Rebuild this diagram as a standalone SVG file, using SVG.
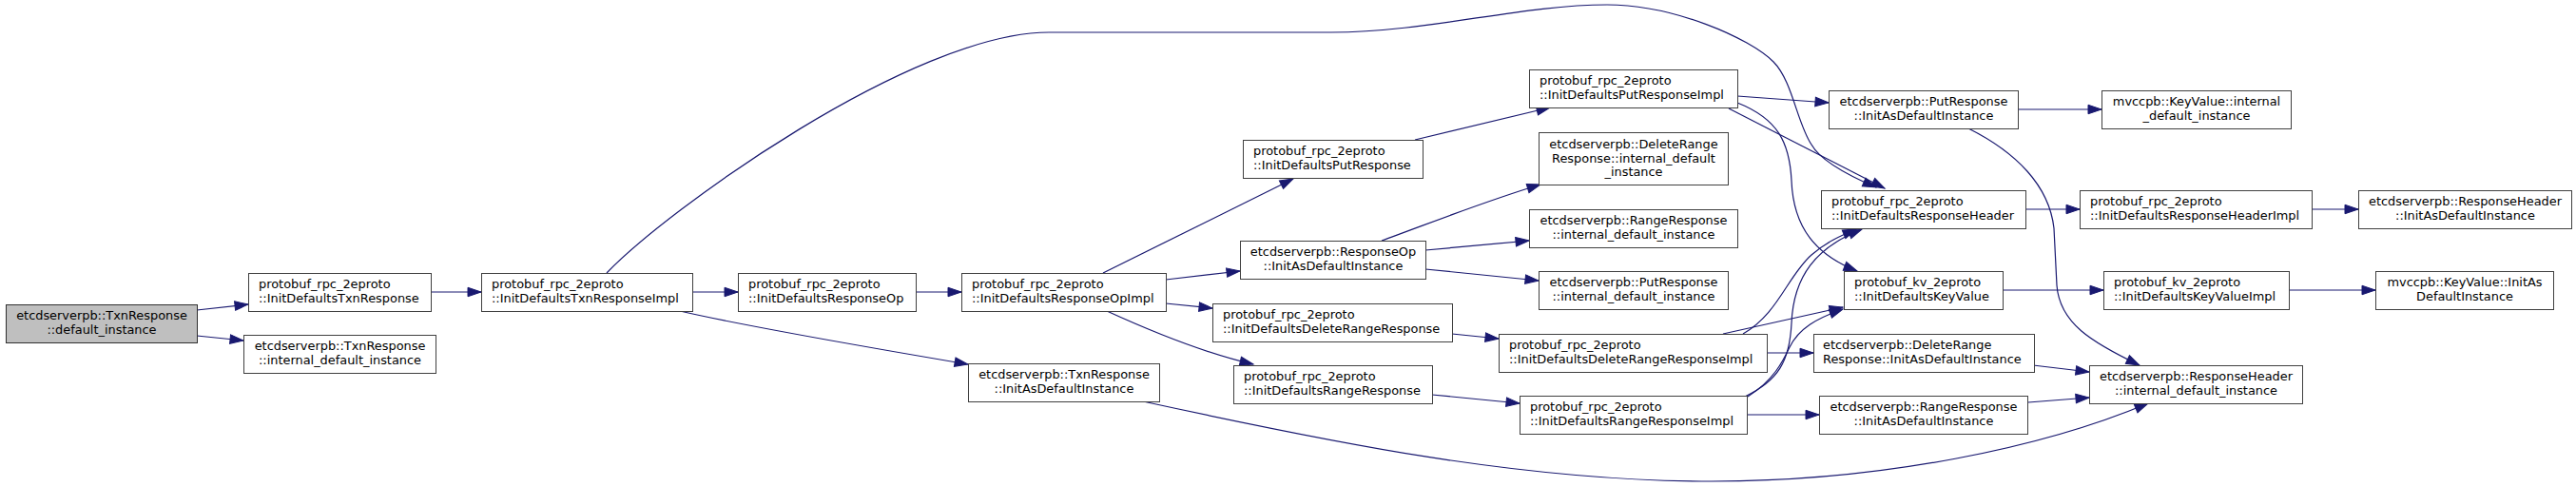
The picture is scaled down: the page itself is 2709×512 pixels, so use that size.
<svg xmlns="http://www.w3.org/2000/svg" width="2709" height="512" viewBox="0 0 2709 512">
<style>
.n rect{fill:#ffffff;stroke:#404040;stroke-width:1}
.n.root rect{fill:#bfbfbf;stroke:#303030}
.n text{font-family:"DejaVu Sans","Liberation Sans",sans-serif;font-size:12.9px;fill:#000}
.c{text-anchor:middle}
.l{text-anchor:start}
.e path{fill:none;stroke:#191970;stroke-width:1.2;marker-end:url(#ah)}
</style>
<defs>
<marker id="ah" markerUnits="userSpaceOnUse" markerWidth="15" markerHeight="11" refX="14" refY="4.75" orient="auto" overflow="visible">
<path d="M0,0 L14,4.75 L0,9.5 Z" fill="#191970" stroke="#191970" stroke-width="1"/>
</marker>
</defs>
<rect width="2709" height="512" fill="#ffffff"/>
<g id="edges" class="e">
<path d="M207,326 L261,320"/>
<path d="M207,353 L256,358"/>
<path d="M453,307 L506,307"/>
<path d="M728,307 L776,307"/>
<path d="M963,307 L1011,307"/>
<path d="M638,287 C700,222 960,34 1103,34 L1400,34 C1500,34 1600,5 1690,5 C1760,5 1840,40 1865,65 C1885,85 1890,130 1905,152 C1915,170 1945,185 1973,197"/>
<path d="M715,327 C780,342 900,363 1018,383"/>
<path d="M1160,287 L1360,188"/>
<path d="M1226,294 L1304,285"/>
<path d="M1226,319 L1275,324"/>
<path d="M1164,327 C1210,348 1270,372 1318,383"/>
<path d="M1488,147 L1630,113"/>
<path d="M1453,253 C1500,236 1560,212 1620,194"/>
<path d="M1499,263 L1608,253"/>
<path d="M1499,283 L1618,295"/>
<path d="M1527,351 L1576,356"/>
<path d="M1506,415 L1598,424"/>
<path d="M1202,422 C1400,465 1600,506 1800,506 C1980,506 2150,470 2259,424"/>
<path d="M1827,101 L1923,108"/>
<path d="M1818,114 L1982,198"/>
<path d="M1827,108 C1870,125 1882,150 1884,190 C1886,240 1910,268 1953,285"/>
<path d="M1833,351 C1870,330 1880,290 1905,268 C1920,255 1935,248 1952,241"/>
<path d="M1812,351 L1938,323"/>
<path d="M1858,371 L1907,371"/>
<path d="M1835,417 C1870,400 1882,380 1884,340 C1886,290 1910,260 1958,241"/>
<path d="M1838,417 C1865,400 1875,380 1882,365 C1892,345 1910,335 1938,325"/>
<path d="M1837,436 L1913,436"/>
<path d="M2122,115 L2210,115"/>
<path d="M2070,135 C2120,160 2155,195 2160,240 L2163,300 C2166,340 2200,360 2250,384"/>
<path d="M2130,220 L2187,220"/>
<path d="M2106,305 L2212,305"/>
<path d="M2138,384 L2197,391"/>
<path d="M2133,423 L2197,418"/>
<path d="M2431,220 L2480,220"/>
<path d="M2407,305 L2498,305"/>
</g>
<g id="nA" class="n root"><rect x="6.5" y="320.5" width="201" height="40"/><text class="c" x="107" y="336.2">etcdserverpb::TxnResponse</text><text class="c" x="107" y="350.8">::default_instance</text></g>
<g id="nB" class="n"><rect x="261.5" y="287.5" width="192" height="40"/><text class="l" x="272" y="303.2">protobuf_rpc_2eproto</text><text class="l" x="272" y="317.8">::InitDefaultsTxnResponse</text></g>
<g id="nC" class="n"><rect x="256.5" y="352.5" width="202" height="40"/><text class="c" x="357.5" y="368.2">etcdserverpb::TxnResponse</text><text class="c" x="357.5" y="382.8">::internal_default_instance</text></g>
<g id="nD" class="n"><rect x="506.5" y="287.5" width="222" height="40"/><text class="l" x="517" y="303.2">protobuf_rpc_2eproto</text><text class="l" x="517" y="317.8">::InitDefaultsTxnResponseImpl</text></g>
<g id="nE" class="n"><rect x="776.5" y="287.5" width="187" height="40"/><text class="l" x="787" y="303.2">protobuf_rpc_2eproto</text><text class="l" x="787" y="317.8">::InitDefaultsResponseOp</text></g>
<g id="nF" class="n"><rect x="1011.5" y="287.5" width="215" height="40"/><text class="l" x="1022" y="303.2">protobuf_rpc_2eproto</text><text class="l" x="1022" y="317.8">::InitDefaultsResponseOpImpl</text></g>
<g id="nG" class="n"><rect x="1018.5" y="382.5" width="201" height="40"/><text class="c" x="1119" y="398.2">etcdserverpb::TxnResponse</text><text class="c" x="1119" y="412.8">::InitAsDefaultInstance</text></g>
<g id="nH" class="n"><rect x="1307.5" y="147.5" width="189" height="40"/><text class="l" x="1318" y="163.2">protobuf_rpc_2eproto</text><text class="l" x="1318" y="177.8">::InitDefaultsPutResponse</text></g>
<g id="nI" class="n"><rect x="1304.5" y="253.5" width="195" height="40"/><text class="c" x="1402" y="269.2">etcdserverpb::ResponseOp</text><text class="c" x="1402" y="283.8">::InitAsDefaultInstance</text></g>
<g id="nJ" class="n"><rect x="1275.5" y="319.5" width="252" height="40"/><text class="l" x="1286" y="335.2">protobuf_rpc_2eproto</text><text class="l" x="1286" y="349.8">::InitDefaultsDeleteRangeResponse</text></g>
<g id="nK" class="n"><rect x="1297.5" y="384.5" width="209" height="40"/><text class="l" x="1308" y="400.2">protobuf_rpc_2eproto</text><text class="l" x="1308" y="414.8">::InitDefaultsRangeResponse</text></g>
<g id="nL" class="n"><rect x="1608.5" y="73.5" width="219" height="40"/><text class="l" x="1619" y="89.2">protobuf_rpc_2eproto</text><text class="l" x="1619" y="103.8">::InitDefaultsPutResponseImpl</text></g>
<g id="nM" class="n"><rect x="1618.5" y="139.5" width="199" height="55"/><text class="c" x="1718" y="156">etcdserverpb::DeleteRange</text><text class="c" x="1718" y="170.6">Response::internal_default</text><text class="c" x="1718" y="185.2">_instance</text></g>
<g id="nN" class="n"><rect x="1608.5" y="220.5" width="219" height="40"/><text class="c" x="1718" y="236.2">etcdserverpb::RangeResponse</text><text class="c" x="1718" y="250.8">::internal_default_instance</text></g>
<g id="nO" class="n"><rect x="1618.5" y="285.5" width="199" height="40"/><text class="c" x="1718" y="301.2">etcdserverpb::PutResponse</text><text class="c" x="1718" y="315.8">::internal_default_instance</text></g>
<g id="nP" class="n"><rect x="1576.5" y="351.5" width="282" height="40"/><text class="l" x="1587" y="367.2">protobuf_rpc_2eproto</text><text class="l" x="1587" y="381.8">::InitDefaultsDeleteRangeResponseImpl</text></g>
<g id="nQ" class="n"><rect x="1598.5" y="416.5" width="239" height="40"/><text class="l" x="1609" y="432.2">protobuf_rpc_2eproto</text><text class="l" x="1609" y="446.8">::InitDefaultsRangeResponseImpl</text></g>
<g id="nR" class="n"><rect x="1923.5" y="95.5" width="199" height="40"/><text class="c" x="2023" y="111.2">etcdserverpb::PutResponse</text><text class="c" x="2023" y="125.8">::InitAsDefaultInstance</text></g>
<g id="nS" class="n"><rect x="1915.5" y="200.5" width="215" height="40"/><text class="l" x="1926" y="216.2">protobuf_rpc_2eproto</text><text class="l" x="1926" y="230.8">::InitDefaultsResponseHeader</text></g>
<g id="nT" class="n"><rect x="1939.5" y="285.5" width="167" height="40"/><text class="l" x="1950" y="301.2">protobuf_kv_2eproto</text><text class="l" x="1950" y="315.8">::InitDefaultsKeyValue</text></g>
<g id="nU" class="n"><rect x="1907.5" y="351.5" width="232" height="40"/><text class="l" x="1917" y="367.2">etcdserverpb::DeleteRange</text><text class="l" x="1917" y="381.8">Response::InitAsDefaultInstance</text></g>
<g id="nV" class="n"><rect x="1913.5" y="416.5" width="219" height="40"/><text class="c" x="2023" y="432.2">etcdserverpb::RangeResponse</text><text class="c" x="2023" y="446.8">::InitAsDefaultInstance</text></g>
<g id="nW" class="n"><rect x="2197.5" y="384.5" width="224" height="40"/><text class="c" x="2309.5" y="400.2">etcdserverpb::ResponseHeader</text><text class="c" x="2309.5" y="414.8">::internal_default_instance</text></g>
<g id="nX" class="n"><rect x="2210.5" y="95.5" width="199" height="40"/><text class="c" x="2310" y="111.2">mvccpb::KeyValue::internal</text><text class="c" x="2310" y="125.8">_default_instance</text></g>
<g id="nY" class="n"><rect x="2187.5" y="200.5" width="244" height="40"/><text class="l" x="2198" y="216.2">protobuf_rpc_2eproto</text><text class="l" x="2198" y="230.8">::InitDefaultsResponseHeaderImpl</text></g>
<g id="nZ" class="n"><rect x="2212.5" y="285.5" width="195" height="40"/><text class="l" x="2223" y="301.2">protobuf_kv_2eproto</text><text class="l" x="2223" y="315.8">::InitDefaultsKeyValueImpl</text></g>
<g id="nAA" class="n"><rect x="2480.5" y="200.5" width="224" height="40"/><text class="c" x="2592.5" y="216.2">etcdserverpb::ResponseHeader</text><text class="c" x="2592.5" y="230.8">::InitAsDefaultInstance</text></g>
<g id="nAB" class="n"><rect x="2498.5" y="285.5" width="187" height="40"/><text class="c" x="2592" y="301.2">mvccpb::KeyValue::InitAs</text><text class="c" x="2592" y="315.8">DefaultInstance</text></g>
</svg>
